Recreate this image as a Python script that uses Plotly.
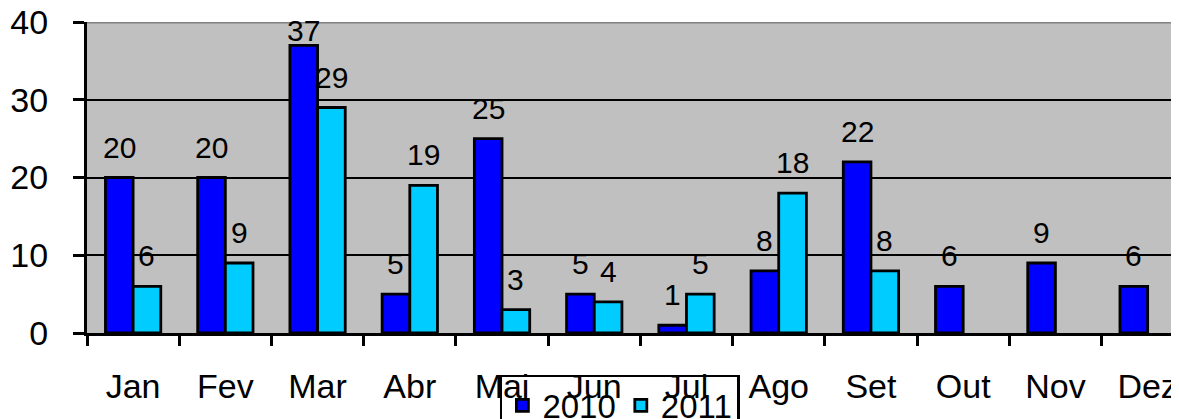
import plotly.graph_objects as go

months = ["Jan", "Fev", "Mar", "Abr", "Mai", "Jun", "Jul", "Ago", "Set", "Out", "Nov", "Dez"]
v2010 = [20, 20, 37, 5, 25, 5, 1, 8, 22, 6, 9, 6]
v2011 = [6, 9, 29, 19, 3, 4, 5, 18, 8, None, None, None]
series = [("2010", v2010, "#0000FF"), ("2011", v2011, "#00CCFF")]

FONT = "Liberation Sans, Arial, sans-serif"
# page body has an 8px margin; size the figure to fit the 1179x419 window
W, H = 1171, 411
ML, MR, MT, MB = 79, 0, 14, 86
XR = [-0.5, 11.34]
YR = [0, 40]
BARGAP = 0.40

fig = go.Figure()
for name, vals, col in series:
    fig.add_trace(go.Bar(name=name, x=months, y=vals,
                         marker=dict(color=col, line=dict(color="black", width=2.8))))

# data labels above the bars, shifted onto each bar of the group
cat_px = (W - ML - MR) / (XR[1] - XR[0])
bar_px = cat_px * (1 - BARGAP) / len(series)
px_per_unit = (H - MT - MB) / (YR[1] - YR[0])
for i, (name, vals, col) in enumerate(series):
    shift = (i - (len(series) - 1) / 2) * bar_px
    for m, v in zip(months, vals):
        if v is None:
            continue
        room = (YR[1] - v) * px_per_unit
        ys = min(12, room - 27)
        fig.add_annotation(x=m, y=v, xref="x", yref="y", text=str(v), showarrow=False,
                           xanchor="center", yanchor="bottom", xshift=shift, yshift=ys,
                           font=dict(size=30, family=FONT, color="black"))

fig.update_layout(
    width=W, height=H,
    margin=dict(l=ML, r=MR, t=MT, b=MB, autoexpand=False),
    paper_bgcolor="white", plot_bgcolor="#C0C0C0",
    barmode="group", bargap=BARGAP, bargroupgap=0,
    font=dict(family=FONT, size=33, color="black"),
    showlegend=True,
    legend=dict(orientation="h", x=0.488, xanchor="center", y=-0.135, yanchor="top",
                bgcolor="rgba(0,0,0,0)", bordercolor="black", borderwidth=2.5,
                font=dict(size=33, family=FONT), traceorder="normal", itemwidth=30),
)
fig.update_xaxes(type="category", range=XR, tickson="boundaries", ticks="outside",
                 ticklen=10, tickwidth=2.5, tickcolor="black", showline=True, linecolor="black",
                 linewidth=3, showgrid=False, ticklabelstandoff=21, automargin=False,
                 ticklabeloverflow="allow", tickfont=dict(size=34, family=FONT))
fig.update_yaxes(range=YR, dtick=10, ticks="outside", ticklen=11, tickwidth=2.5, tickcolor="black",
                 showline=True, linecolor="black", linewidth=3, showgrid=True, gridcolor="black",
                 gridwidth=2, zeroline=False, ticklabelstandoff=18, automargin=False,
                 ticklabeloverflow="allow", tickfont=dict(size=34, family=FONT))
fig.add_shape(type="line", xref="paper", yref="y", x0=0, x1=1, y0=YR[1], y1=YR[1],
              line=dict(color="#808080", width=3), layer="above")

fig.write_html("out.html")
